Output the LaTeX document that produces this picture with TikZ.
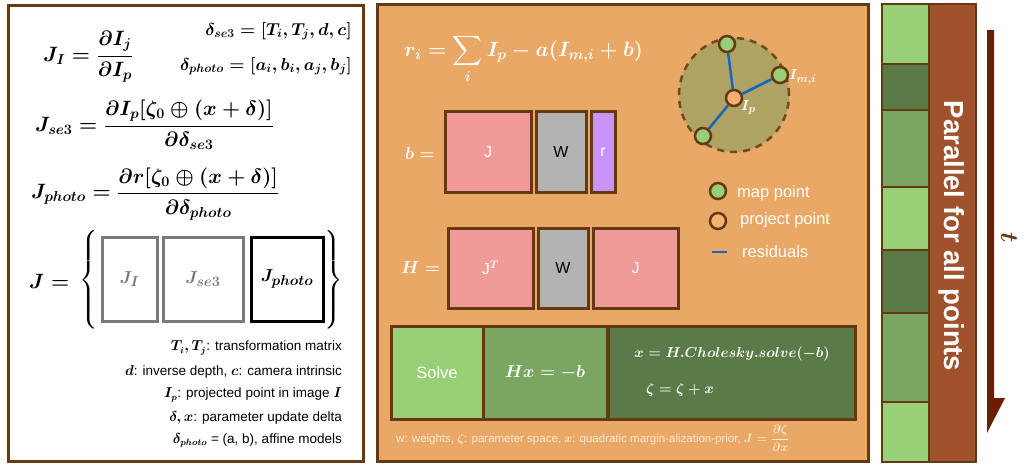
\documentclass[tikz,border=0pt]{standalone}
\usepackage{amsmath,bm}
\usepackage{fontspec}
\setsansfont{Liberation Sans}
\usetikzlibrary{calc}
\definecolor{brn}{HTML}{653A12}
\definecolor{org}{HTML}{E9A866}
\definecolor{olv}{HTML}{AFA363}
\definecolor{pnk}{HTML}{F19B98}
\definecolor{gry}{HTML}{B3B3B3}
\definecolor{prp}{HTML}{C993F9}
\definecolor{lgr}{HTML}{99CF77}
\definecolor{mgr}{HTML}{7AA661}
\definecolor{dgr}{HTML}{5A7B48}
\definecolor{bar}{HTML}{A0522D}
\definecolor{arw}{HTML}{6E1E00}
\definecolor{resb}{HTML}{1565C0}
\definecolor{ftr}{HTML}{FBE9D6}
\definecolor{jgry}{HTML}{7A7A7A}
\definecolor{ppt}{HTML}{F7B06F}
\begin{document}
\begin{tikzpicture}[x=1pt,y=-1pt,
  panel/.style={draw=brn,line width=3pt},
  blk/.style={draw=brn,line width=3pt,inner sep=0pt},
  jbox/.style={line width=3pt,inner sep=0pt},
  bigm/.style={inner sep=0pt,font=\boldmath\fontsize{20}{24}\selectfont},
  midm/.style={inner sep=0pt,font=\boldmath\fontsize{17}{20}\selectfont},
  leg/.style={inner sep=0pt,anchor=east,font=\sffamily\boldmath\fontsize{13.5}{16}\selectfont},
  wtxt/.style={inner sep=0pt,text=white,font=\sffamily\fontsize{16.5}{19}\selectfont},
  wmath/.style={inner sep=0pt,text=white,font=\boldmath\fontsize{19}{22}\selectfont},
  pt/.style={circle,draw=brn,line width=2.5pt,minimum size=16pt,inner sep=0pt},
  res/.style={draw=resb,line width=2.5pt},
  strip/.style={draw=brn,line width=2.5pt}
]
\useasboundingbox (0,0) rectangle (1032,464);
\fill[white] (0,0) rectangle (1032,464);

% ---------------- left panel ----------------
\draw[panel,fill=white] (8,5) rectangle (363,461);
\node[bigm,anchor=west] (jI) at (43,57) {$J_I = \dfrac{\partial I_j}{\partial I_p}$};
\node[midm,anchor=east] (dse) at (352,31) {$\delta_{se3} = [T_i, T_j, d, c]$};
\node[midm,anchor=east] (dph) at (352,66) {$\delta_{photo} = [a_i, b_i, a_j, b_j]$};
\node[bigm,anchor=west] (jse) at (35,125) {$J_{se3} = \dfrac{\partial I_p[\zeta_0 \oplus (x+\delta)]}{\partial \delta_{se3}}$};
\node[bigm,anchor=west] (jph) at (31,194) {$J_{photo} = \dfrac{\partial r[\zeta_0 \oplus (x+\delta)]}{\partial \delta_{photo}}$};
\node[inner sep=0pt,anchor=west,font=\boldmath\fontsize{22}{26}\selectfont] (Jeq) at (29,281) {$J =$};
\node[inner sep=0pt,font=\boldmath\fontsize{20}{24}\selectfont] (bro) at (89,280) {$\left\{\vrule height 45pt depth 45pt width 0pt\right.$};
\node[inner sep=0pt,font=\boldmath\fontsize{20}{24}\selectfont] (brc) at (333,280) {$\left.\vrule height 45pt depth 45pt width 0pt\right\}$};
\node[jbox,draw=jgry,minimum width=55pt,minimum height=84pt,text=jgry,font=\boldmath\fontsize{19}{22}\selectfont] (bJI) at (129.5,279) {$J_I$};
\node[jbox,draw=jgry,minimum width=80pt,minimum height=84pt,text=jgry,font=\boldmath\fontsize{19}{22}\selectfont] (bJse) at (203,279) {$J_{se3}$};
\node[jbox,draw=black,minimum width=72pt,minimum height=84pt,font=\boldmath\fontsize{19}{22}\selectfont] (bJph) at (287,279) {$J_{photo}$};
\node[leg] (l1) at (342,348) {$T_i, T_j$: transformation matrix};
\node[leg] (l2) at (342,372) {$d$: inverse depth, $c$: camera intrinsic};
\node[leg] (l3) at (342,395) {$I_p$: projected point in image $I$};
\node[leg] (l4) at (342,418) {$\delta, x$: parameter update delta};
\node[leg] (l5) at (342,440) {$\delta_{photo}$ = (a, b), affine models};

% ---------------- middle panel ----------------
\draw[panel,fill=org] (377,4) rectangle (868,461);
\node[inner sep=0pt,text=white,font=\boldmath\fontsize{19.5}{23}\selectfont,anchor=west] (ri) at (404,59)
  {$r_i = \displaystyle\sum_i I_p - a(I_{m,i} + b)$};
\node[wmath,anchor=west] (beq) at (405,153) {$b =$};
\node[blk,fill=pnk,minimum width=86pt,minimum height=81pt,text=white,font=\sffamily\fontsize{16}{19}\selectfont] (bJ) at (488,152) {J};
\node[blk,fill=gry,minimum width=50pt,minimum height=81pt,text=black,font=\sffamily\fontsize{16}{19}\selectfont] (bW) at (561,152) {W};
\node[blk,fill=prp,minimum width=24pt,minimum height=81pt,text=white,font=\sffamily\fontsize{16}{19}\selectfont] (br) at (603,152) {r};
\node[wmath,anchor=west] (Heq) at (401,268) {$H =$};
\node[blk,fill=pnk,minimum width=85pt,minimum height=80pt,text=white,font=\sffamily\fontsize{16}{19}\selectfont] (hJT) at (490.5,268) {J$^{\boldsymbol{T}}$};
\node[blk,fill=gry,minimum width=50pt,minimum height=80pt,text=black,font=\sffamily\fontsize{16}{19}\selectfont] (hW) at (563,268) {W};
\node[blk,fill=pnk,minimum width=85pt,minimum height=80pt,text=white,font=\sffamily\fontsize{16}{19}\selectfont] (hJ) at (635.5,268) {J};

% circle of residuals
\draw[fill=olv,draw=brn!85!olv,line width=2.5pt,dash pattern=on 7pt off 6pt] (734,95) ellipse (55pt and 57pt);
\node[pt,fill=lgr] (m1) at (727,44) {};
\node[pt,fill=lgr] (m2) at (780,75) {};
\node[pt,fill=lgr] (m3) at (703,136) {};
\node[pt,fill=ppt] (pc) at (734,98) {};
\draw[res] (pc) -- (m1);
\draw[res] (pc) -- (m2);
\draw[res] (pc) -- (m3);
\node[inner sep=0pt,text=white,font=\boldmath\fontsize{15}{18}\selectfont,anchor=west] (lIm) at (789,77) {$I_{m,i}$};
\node[inner sep=0pt,text=white,font=\boldmath\fontsize{15}{18}\selectfont,anchor=west] (lIp) at (741,108) {$I_p$};

% legend
\node[pt,fill=lgr] (lgm) at (718,191) {};
\node[wtxt,anchor=west] (tmp) at (737,193) {map point};
\node[pt,fill=ppt] (lgp) at (718,221) {};
\node[wtxt,anchor=west] (tpp) at (740,220) {project point};
\coordinate (rs1) at (712,252);
\coordinate (rs2) at (727,252);
\draw[res] (rs1) -- (rs2);
\node[wtxt,anchor=west] (trs) at (742,252) {residuals};

% solve row
\node[blk,fill=lgr,minimum width=92pt,minimum height=93pt,text=white,font=\sffamily\fontsize{16.5}{19}\selectfont] (sv) at (437,372.5) {Solve};
\node[blk,fill=mgr,minimum width=124pt,minimum height=93pt,text=white,font=\boldmath\fontsize{19}{22}\selectfont] (hx) at (545,372.5) {$Hx = -b$};
\node[blk,fill=dgr,minimum width=247pt,minimum height=93pt] (ch) at (731.5,372.5) {};
\draw[brn,line width=3pt] (391,326) rectangle (855,419);
\node[inner sep=0pt,text=white,font=\boldmath\fontsize{13.8}{16}\selectfont] (chs) at (732,354) {$x = H.Cholesky.solve(-b)$};
\node[inner sep=0pt,text=white,font=\boldmath\fontsize{13.8}{16}\selectfont,anchor=west] (zup) at (646,390) {$\zeta = \zeta + x$};
\node[inner sep=0pt,text=ftr,font=\sffamily\boldmath\fontsize{11.5}{14}\selectfont,anchor=west] (foot) at (396,438)
  {w: weights, $\zeta$: parameter space, $x$: quadratic margin-alization-prior, $J = \dfrac{\partial\zeta}{\partial x}$};

% ---------------- right strip ----------------
\draw[strip,fill=lgr] (882,4) rectangle (929,64);
\draw[strip,fill=dgr] (882,64) rectangle (929,110);
\draw[strip,fill=mgr] (882,110) rectangle (929,187);
\draw[strip,fill=lgr] (882,187) rectangle (929,250);
\draw[strip,fill=dgr] (882,250) rectangle (929,313);
\draw[strip,fill=mgr] (882,313) rectangle (929,402);
\draw[strip,fill=lgr] (882,402) rectangle (929,462);
\draw[strip,fill=bar] (929,4) rectangle (976,462);
\node[inner sep=0pt,rotate=-90,text=white,font=\sffamily\bfseries\fontsize{27.5}{32}\selectfont] (par) at (952,236) {Parallel for all points};
\fill[arw] (987,30) -- (994,30) -- (994,398) -- (1005,398) -- (987,433) -- cycle;
\node[inner sep=0pt,rotate=-90,text=brn,font=\boldmath\fontsize{30}{34}\selectfont] (tl) at (1009,238) {$t$};
\end{tikzpicture}
\end{document}
